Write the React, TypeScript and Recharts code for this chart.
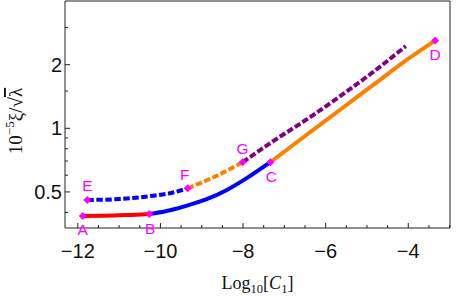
import React from "react";
import { ComposedChart, Line, Scatter, XAxis, YAxis } from "recharts";

// A -> B (red, solid)
const redX = [-11.88, -11.4, -11.0, -10.6, -10.27];
const redY = [0.385, 0.386, 0.388, 0.39, 0.393];
// B -> C (blue, solid)
const blueX = [-10.27, -9.85, -9.44, -8.88, -8.39, -7.91, -7.34];
const blueY = [0.393, 0.406, 0.426, 0.462, 0.511, 0.581, 0.691];
// C -> D (orange, solid)
const orangeX = [-7.34, -6.46, -5.65, -4.84, -4.03, -3.35];
const orangeY = [0.691, 0.932, 1.224, 1.608, 2.112, 2.6];
// E -> F (blue, dashed)
const blueDashX = [-11.77, -10.98, -10.17, -9.77, -9.34];
const blueDashY = [0.458, 0.463, 0.48, 0.493, 0.52];
// F -> G (orange, dashed)
const orangeDashX = [-9.34, -8.68, -8.01];
const orangeDashY = [0.52, 0.591, 0.691];
// G -> end (purple, dashed)
const purpleX = [-8.01, -7.26, -6.46, -5.65, -4.84, -4.06];
const purpleY = [0.691, 0.872, 1.101, 1.418, 1.853, 2.447];

// Marked points
const pointNames = ["A", "B", "C", "D", "E", "F", "G"];
const pointX = [-11.88, -10.27, -7.34, -3.35, -11.77, -9.34, -8.01];
const pointY = [0.385, 0.393, 0.691, 2.6, 0.458, 0.52, 0.691];

// Ticks
const xTicks = [-12, -11.5, -11, -10.5, -10, -9.5, -9, -8.5, -8, -7.5, -7, -6.5, -6, -5.5, -5, -4.5, -4, -3.5, -3];
const xMajor = [-12, -10, -8, -6, -4];
const yTicks = [0.4, 0.5, 0.6, 0.7, 0.8, 0.9, 1, 1.5, 2, 3];
const yMajor = [0.5, 1, 2];
const yTickLabels = ["0.5", "1", "2"];

const toPoints = (xs: number[], ys: number[]) => xs.map((x, i) => ({ x, y: ys[i] }));

const red = toPoints(redX, redY);
const blue = toPoints(blueX, blueY);
const orange = toPoints(orangeX, orangeY);
const blueDash = toPoints(blueDashX, blueDashY);
const orangeDash = toPoints(orangeDashX, orangeDashY);
const purple = toPoints(purpleX, purpleY);
const points = pointNames.map((name, i) => ({ name, x: pointX[i], y: pointY[i] }));

const FRAME = "#222";
const TICK_FONT = "'Liberation Sans', Arial, sans-serif";
const SERIF = "'Liberation Serif', 'Times New Roman', serif";
const MAGENTA = "#FF00FF";

const fmtX = (v: number) => (v < 0 ? "\u2212" + Math.abs(v) : String(v));

const BottomTick = (props: any) => {
  const { x, y, payload } = props;
  const major = xMajor.includes(payload.value);
  return (
    <g>
      <line x1={x} x2={x} y1={y} y2={y - (major ? 5 : 3)} stroke={FRAME} strokeWidth={1} />
      {major && (
        <text x={x} y={y + 30} textAnchor="middle" fontFamily={TICK_FONT} fontSize={20} fill="#111">
          {fmtX(payload.value)}
        </text>
      )}
    </g>
  );
};

const TopTick = (props: any) => {
  const { x, y, payload } = props;
  const major = xMajor.includes(payload.value);
  return <line x1={x} x2={x} y1={y} y2={y + (major ? 5 : 3)} stroke={FRAME} strokeWidth={1} />;
};

const LeftTick = (props: any) => {
  const { x, y, payload } = props;
  const idx = yMajor.indexOf(payload.value);
  const major = idx >= 0;
  return (
    <g>
      <line x1={x} x2={x + (major ? 5 : 3)} y1={y} y2={y} stroke={FRAME} strokeWidth={1} />
      {major && (
        <text x={x - 3} y={y + 7} textAnchor="end" fontFamily={TICK_FONT} fontSize={20} fill="#111">
          {yTickLabels[idx]}
        </text>
      )}
    </g>
  );
};

const RightTick = (props: any) => {
  const { x, y, payload } = props;
  const major = yMajor.includes(payload.value);
  return <line x1={x} x2={x - (major ? 5 : 3)} y1={y} y2={y} stroke={FRAME} strokeWidth={1} />;
};

const above = ["E", "F", "G"];
const labelDx: Record<string, number> = { F: -3, B: 1, C: 1 };

const Marker = (props: any) => {
  const { cx, cy, payload } = props;
  const s = 4;
  const name = payload?.name ?? "";
  const up = above.includes(name);
  return (
    <g>
      <polygon
        points={`${cx},${cy - s} ${cx + s},${cy} ${cx},${cy + s} ${cx - s},${cy}`}
        fill={MAGENTA}
      />
      <text
        x={cx + (labelDx[name] ?? 0)}
        y={up ? cy - 8.5 : cy + 19.5}
        textAnchor="middle"
        fontFamily={TICK_FONT}
        fontSize={15.5}
        fill={MAGENTA}
      >
        {name}
      </text>
    </g>
  );
};

const xDomain: [number, number] = [-12.31, -2.99];
const yDomain: [number, number] = [0.3376, 4];
const DASH = "6.5 2.5";

export default function App() {
  return (
    <div style={{ position: "absolute", left: 0, top: 0, width: 457, height: 296, background: "#fff" }}>
      <ComposedChart width={457} height={296} margin={{ top: 0, right: 0, bottom: 0, left: 0 }}>
        <XAxis
          xAxisId="b"
          type="number"
          dataKey="x"
          orientation="bottom"
          domain={xDomain}
          ticks={xTicks}
          interval={0}
          tick={BottomTick}
          tickSize={0}
          tickMargin={0}
          tickLine={false}
          axisLine={{ stroke: FRAME, strokeWidth: 1 }}
          height={68}
        />
        <XAxis
          xAxisId="t"
          type="number"
          dataKey="x"
          orientation="top"
          domain={xDomain}
          ticks={xTicks}
          interval={0}
          tick={TopTick}
          tickSize={0}
          tickMargin={0}
          tickLine={false}
          axisLine={{ stroke: FRAME, strokeWidth: 1 }}
          height={1}
        />
        <YAxis
          yAxisId="l"
          type="number"
          scale="log"
          orientation="left"
          domain={yDomain}
          ticks={yTicks}
          interval={0}
          tick={LeftTick}
          tickSize={0}
          tickMargin={0}
          tickLine={false}
          axisLine={{ stroke: FRAME, strokeWidth: 1 }}
          width={65}
        />
        <YAxis
          yAxisId="r"
          type="number"
          scale="log"
          orientation="right"
          domain={yDomain}
          ticks={yTicks}
          interval={0}
          tick={RightTick}
          tickSize={0}
          tickMargin={0}
          tickLine={false}
          axisLine={{ stroke: FRAME, strokeWidth: 1 }}
          width={7}
        />
        <Line xAxisId="b" yAxisId="l" data={red} dataKey="y" type="monotone" stroke="#FF0000" strokeWidth={4} dot={false} isAnimationActive={false} />
        <Line xAxisId="b" yAxisId="l" data={blue} dataKey="y" type="monotone" stroke="#0000FF" strokeWidth={4} dot={false} isAnimationActive={false} />
        <Line xAxisId="b" yAxisId="l" data={orange} dataKey="y" type="monotone" stroke="#FF8000" strokeWidth={4} dot={false} isAnimationActive={false} />
        <Line xAxisId="b" yAxisId="l" data={blueDash} dataKey="y" type="monotone" stroke="#0000FF" strokeWidth={4} strokeDasharray={DASH} dot={false} isAnimationActive={false} />
        <Line xAxisId="b" yAxisId="l" data={orangeDash} dataKey="y" type="monotone" stroke="#FF8000" strokeWidth={4} strokeDasharray={DASH} dot={false} isAnimationActive={false} />
        <Line xAxisId="b" yAxisId="l" data={purple} dataKey="y" type="monotone" stroke="#800080" strokeWidth={4} strokeDasharray={DASH} dot={false} isAnimationActive={false} />
        <Scatter xAxisId="b" yAxisId="l" data={points} dataKey="y" shape={Marker} isAnimationActive={false} />
      </ComposedChart>
      <svg width={457} height={296} style={{ position: "absolute", left: 0, top: 0, pointerEvents: "none" }}>
        <text x={257.5} y={289} textAnchor="middle" fontFamily={SERIF} fontSize={18} fill="#111">
          Log<tspan fontSize={12.5} dy={4}>10</tspan>
          <tspan dy={-4}>[</tspan>
          <tspan fontStyle="italic">C</tspan>
          <tspan fontSize={12.5} dy={4}>1</tspan>
          <tspan dy={-4}>]</tspan>
        </text>
        <g transform="translate(22,121) rotate(-90)">
          <text x={0} y={0} textAnchor="middle" fontFamily={SERIF} fontSize={19} fill="#111">
            10<tspan fontSize={13} dy={-8}>{"\u22125"}</tspan>
            <tspan dy={8}>{"\u03BE/\u221A"}</tspan>
            <tspan textDecoration="overline">{"\u03BB"}</tspan>
          </text>
        </g>
      </svg>
    </div>
  );
}
